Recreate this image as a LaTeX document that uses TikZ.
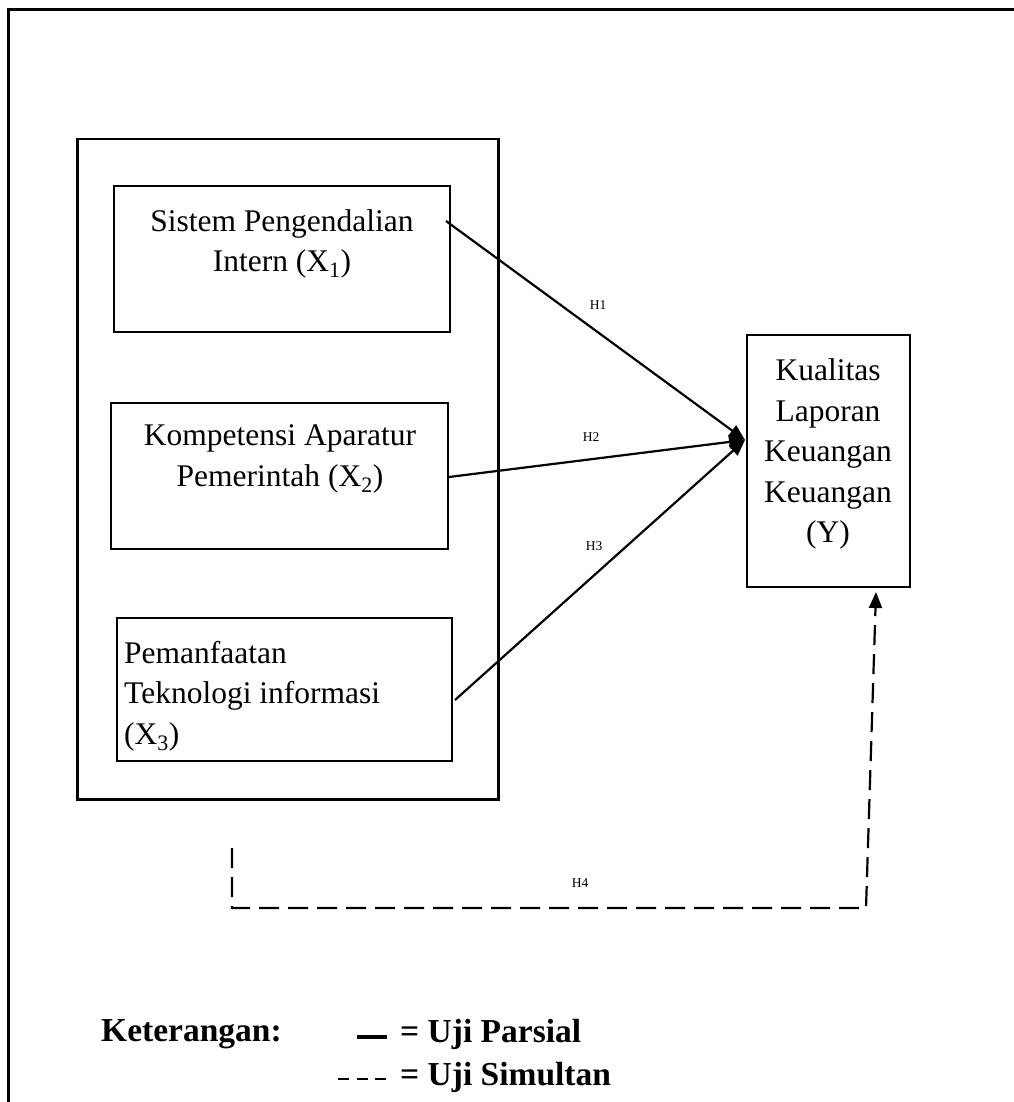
\documentclass[tikz,border=0pt]{standalone}
\usepackage{fontspec}
\setmainfont{Liberation Serif}
\usetikzlibrary{arrows.meta}
\begin{document}
\begin{tikzpicture}[x=1pt,y=-1pt,
  box/.style={draw, line width=2pt, inner sep=0pt, anchor=north west},
  txt/.style={font=\fontsize{31.5}{40.5}\selectfont, align=center, inner sep=0pt},
  hl/.style={font=\fontsize{13.5}{15}\selectfont, inner sep=0pt},
  leg/.style={font=\fontsize{33.5}{38}\selectfont\bfseries, inner sep=0pt, anchor=west},
  tipstyle/.style={-{Triangle[length=16pt,width=13pt]}},
  arr/.style={line width=2.2pt, tipstyle},
  dsh/.style={line width=2.2pt, dash pattern=on 20pt off 9pt}]
\useasboundingbox (0,0) rectangle (1013,1102);
\fill[white] (0,0) rectangle (1013,1102);
% outer frame (right and bottom cut off)
\coordinate (fa) at (8,1110);
\coordinate (fb) at (8,10);
\coordinate (fc) at (1020,10);
\draw[line width=3pt] (fa) -- (fb) -- (fc);
% group box and variable boxes
\node[box, line width=2.5pt, minimum width=421pt, minimum height=660pt] (grp) at (76,138) {};
\node[box, minimum width=336pt, minimum height=146pt] (x1) at (113,185) {};
\node[box, minimum width=337pt, minimum height=146pt] (x2) at (110,402) {};
\node[box, minimum width=335pt, minimum height=143pt] (x3) at (116,617) {};
\node[box, minimum width=163pt, minimum height=252pt] (y) at (746,334) {};
% texts
\node[txt] (x1t) at (282,244) {Sistem Pengendalian\\Intern (X\textsubscript{1})};
\node[txt] (x2t) at (280,459) {Kompetensi Aparatur\\Pemerintah (X\textsubscript{2})};
\node[txt, align=left, anchor=west] (x3t) at (124,696) {Pemanfaatan\\Teknologi informasi\\(X\textsubscript{3})};
\node[txt] (yt) at (828,454) {Kualitas\\Laporan\\Keuangan\\Keuangan\\(Y)};
% partial test arrows
\coordinate (tip) at (745,440);
\coordinate (s1) at (446,221);
\coordinate (s2) at (449,477);
\coordinate (s3) at (455,700);
\draw[arr] (s1) -- (tip);
\draw[arr] (s2) -- (tip);
\draw[arr] (s3) -- (tip);
\node[hl] (h1) at (598,305) {H1};
\node[hl] (h2) at (591,437) {H2};
\node[hl] (h3) at (594,546) {H3};
\node[hl] (h4) at (580,883) {H4};
% simultaneous test
\coordinate (d0) at (232,848);
\coordinate (d1) at (866,908);
\coordinate (dt) at (876,592);
\draw[dsh, tipstyle] (d0) |- (d1) -- (dt);
% legend
\node[leg] (ket) at (101,1034) {Keterangan:};
\coordinate (la) at (357,1037);
\coordinate (lb) at (387,1037);
\draw[line width=3.5pt] (la) -- (lb);
\node[leg] (up) at (400,1034) {= Uji Parsial};
\coordinate (lc) at (338,1079);
\coordinate (ld) at (386,1079);
\draw[line width=2pt, dash pattern=on 11pt off 7.5pt] (lc) -- (ld);
\node[leg] (us) at (400,1077) {= Uji Simultan};
\end{tikzpicture}
\end{document}
